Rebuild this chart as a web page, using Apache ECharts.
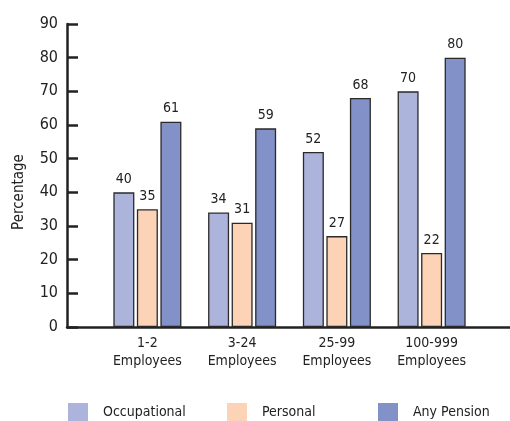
<!DOCTYPE html>
<html>
<head>
<meta charset="utf-8">
<script src="https://cdn.jsdelivr.net/npm/echarts@6/dist/echarts.min.js"></script>
<style>
  html, body { margin: 0; padding: 0; background: #fff; }
  #chart { width: 510px; height: 421px; }
</style>
</head>
<body>
<div id="chart"></div>
<script>
// Pension coverage by firm size
const categories = ['1-2\nEmployees', '3-24\nEmployees', '25-99\nEmployees', '100-999\nEmployees'];
const occupational = [40, 34, 52, 70];
const personal = [35, 31, 27, 22];
const anyPension = [61, 59, 68, 80];
const yTicks = [0, 10, 20, 30, 40, 50, 60, 70, 80, 90];

const FONT = '"DejaVu Sans Condensed", "Liberation Sans Narrow", "Liberation Sans", sans-serif';
const colors = { occ: '#adb4dc', per: '#fdd3b8', any: '#8291c8' };

const chart = echarts.init(document.getElementById('chart'), null, { renderer: 'canvas' });

function barSeries(name, data, color) {
  return {
    name: name,
    type: 'bar',
    xAxisIndex: 1,
    yAxisIndex: 1,
    data: data,
    barWidth: 21,
    barGap: '12%',
    itemStyle: { color: color, borderColor: '#2a2a2a', borderWidth: 1.3 },
    label: {
      show: true,
      position: 'top',
      distance: 6,
      color: '#222',
      fontFamily: FONT,
      fontSize: 14
    }
  };
}

function legendAt(name, left) {
  return {
    data: [name],
    left: left,
    top: 403,
    padding: 0,
    itemWidth: 20,
    itemHeight: 18,
    itemGap: 0,
    icon: 'rect',
    itemStyle: { borderWidth: 0 },
    selectedMode: false,
    textStyle: { fontFamily: FONT, fontSize: 14, color: '#222', padding: [0, 0, 0, 10] }
  };
}

chart.setOption({
  animation: false,
  legend: [
    legendAt('Occupational', 68),
    legendAt('Personal', 227),
    legendAt('Any Pension', 378)
  ],
  grid: [
    { left: 67, right: 0, top: 24, bottom: 94 },
    { left: 100, right: 31, top: 24, bottom: 94 }
  ],
  xAxis: [
    {
      type: 'category',
      gridIndex: 0,
      data: [''],
      axisLine: { show: true, lineStyle: { color: '#222', width: 2.5 } },
      axisTick: { show: false },
      axisLabel: { show: false }
    },
    {
      type: 'category',
      gridIndex: 1,
      data: categories,
      axisLine: { show: false },
      axisTick: { show: false },
      axisLabel: {
        interval: 0,
        margin: 7,
        color: '#222',
        fontFamily: FONT,
        fontSize: 14,
        lineHeight: 18
      }
    }
  ],
  yAxis: [
    {
      type: 'value',
      gridIndex: 0,
      min: 0,
      max: 90,
      interval: 10,
      axisLine: { show: true, lineStyle: { color: '#222', width: 2.5 } },
      axisTick: { show: true, inside: true, length: 11, lineStyle: { color: '#222', width: 2.5 } },
      axisLabel: {
        margin: 9,
        color: '#222',
        fontFamily: FONT,
        fontSize: 16,
        formatter: function (v) { return yTicks.indexOf(v) >= 0 ? String(v) : ''; }
      },
      splitLine: { show: false }
    },
    {
      type: 'value',
      gridIndex: 1,
      min: 0,
      max: 90,
      interval: 10,
      show: false,
      splitLine: { show: false }
    }
  ],
  graphic: [
    {
      type: 'text',
      x: 12,
      y: 192,
      rotation: Math.PI / 2,
      style: {
        text: 'Percentage',
        fontFamily: FONT,
        fontSize: 15,
        fill: '#222',
        align: 'center',
        verticalAlign: 'top'
      }
    }
  ],
  series: [
    barSeries('Occupational', occupational, colors.occ),
    barSeries('Personal', personal, colors.per),
    barSeries('Any Pension', anyPension, colors.any)
  ]
});
</script>
</body>
</html>
